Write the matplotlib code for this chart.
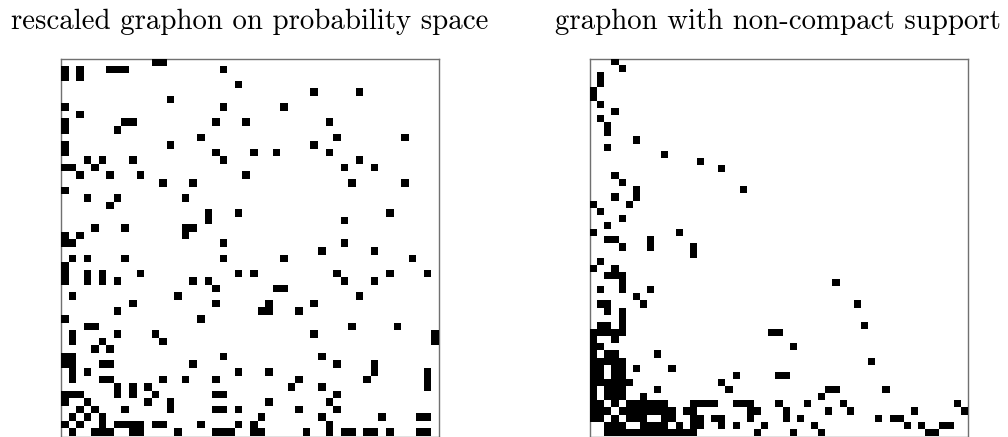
#! /usr/bin/env python3

"""Two sampled graphons shown side by side as black and white adjacency grids"""

import numpy as np
import matplotlib
matplotlib.use('Agg')
import matplotlib.pyplot as plt

# column indices of the black cells, one list per row from the top

left_title = "rescaled graphon on probability space"
left_rows = [
    [12, 13], [0, 2, 6, 7, 8, 21], [0, 2], [23], [33, 39], [14], [0, 21, 29], [2],
    [0, 8, 9, 20, 24, 35], [0, 7], [18, 36, 45], [0, 14, 33], [0, 20, 25, 28, 35],
    [3, 5, 9, 21, 39], [0, 1, 4, 37, 41], [2, 6, 10, 24], [13, 17, 38, 45], [0],
    [3, 7, 16], [6], [19, 23, 43], [19, 37], [4, 8, 16, 17], [0, 2, 16],
    [0, 1, 21, 37], [34, 41], [1, 3, 8, 21, 29, 46], [0],
    [0, 3, 5, 10, 23, 25, 36, 43, 48], [0, 3, 5, 7, 17, 19, 37, 41], [20, 28, 29],
    [1, 15, 39], [9, 20, 27, 33], [7, 26, 27, 31], [0, 18], [3, 4, 38, 44],
    [1, 7, 12, 33, 49], [1, 5, 13, 49], [4, 6], [0, 1, 21, 34],
    [0, 1, 5, 6, 17, 36, 41], [1, 3, 23, 27, 41, 48],
    [1, 5, 6, 13, 16, 20, 31, 40, 48], [7, 9, 11, 30, 34, 48],
    [0, 1, 2, 7, 9, 12, 20, 21, 36], [0, 3, 11, 14, 27, 35],
    [2, 4, 8, 14, 20, 21, 23, 31, 36], [1, 3, 5, 26, 34, 42, 47, 48],
    [0, 2, 5, 7, 8, 9, 10, 12, 13, 18, 23, 25, 35],
    [1, 4, 5, 6, 9, 10, 15, 20, 21, 22, 25, 26, 32, 35, 37, 38, 40, 41, 43, 47, 48],
]

right_title = "graphon with non-compact support"
right_rows = [
    [3], [4], [1], [1], [0], [0], [1], [3], [1], [2], [2], [6], [2], [10], [15], [18],
    [3], [4], [6, 21], [3, 6], [0, 5], [1], [4], [2], [0, 12], [2, 3, 8], [4, 8, 14],
    [14], [1], [0, 3], [2, 3, 4], [4, 34], [1, 4, 8], [6], [1, 2, 7, 37], [2, 4], [4],
    [1, 2, 4, 38], [0, 1, 2, 3, 4, 25, 26], [0, 3], [0, 1, 28], [0, 2, 3, 9],
    [0, 1, 2, 3, 4, 39], [0, 1, 3, 4, 6, 11], [0, 1, 3, 4, 20, 26, 27],
    [0, 1, 2, 3, 4, 5, 18], [0, 2, 3, 4, 9, 19, 33, 34, 41], [0, 2, 3, 4, 7, 32],
    [0, 1, 3, 5, 6, 7, 8, 9, 10, 14, 15, 16, 17, 20, 21, 22, 26, 30, 35, 51],
    [0, 1, 2, 4, 5, 6, 7, 8, 9, 10, 11, 13, 14, 22, 23, 27, 33, 36, 45, 52],
    [0, 1, 3, 5, 6, 7, 10, 11, 14, 15, 17, 18, 22, 27, 29, 40, 42, 43],
    [2, 3, 4, 7, 8, 9, 10, 12, 14, 15, 18, 20, 24, 31, 44, 46, 49, 50],
    [2, 3, 4, 5, 6, 7, 8, 9, 10, 11, 12, 13, 14, 23, 28, 32, 47, 48],
]


def build_grid(rows):
    """Turn the per row column lists into a square 0/1 matrix"""
    size = len(rows)
    grid = np.zeros((size, size))
    for rownum, cols in enumerate(rows):
        grid[rownum, cols] = 1
    return grid


def transparent_white(grid):
    """Mask the empty cells so that the frame shows through them"""
    return np.ma.masked_equal(grid, 0)


width, height = 1008, 437
plotfigure = plt.figure(figsize=(width / 100, height / 100), dpi=100)

panels = ((left_rows, left_title, 61, 250), (right_rows, right_title, 590, 778))

for rows, title, xpix, titlepix in panels:
    ax = plotfigure.add_axes([xpix / width, 0.5 / height, 378 / width, 377.5 / height])
    img = ax.imshow(transparent_white(build_grid(rows)), cmap='gray_r', vmin=0, vmax=1,
                    interpolation='nearest', aspect='auto')
    img.set_zorder(3)
    ax.set_xticks([])
    ax.set_yticks([])
    for spine in ax.spines.values():
        spine.set_color('#707070')
        spine.set_linewidth(1.0)
        spine.set_zorder(2)
    plotfigure.text(titlepix / width, (height - 29) / height, title, family='cmr10',
                    fontsize=20.8, ha='center', va='baseline', color='black')

plotfigure.savefig("out.png", dpi=100)
plt.close(plotfigure)
